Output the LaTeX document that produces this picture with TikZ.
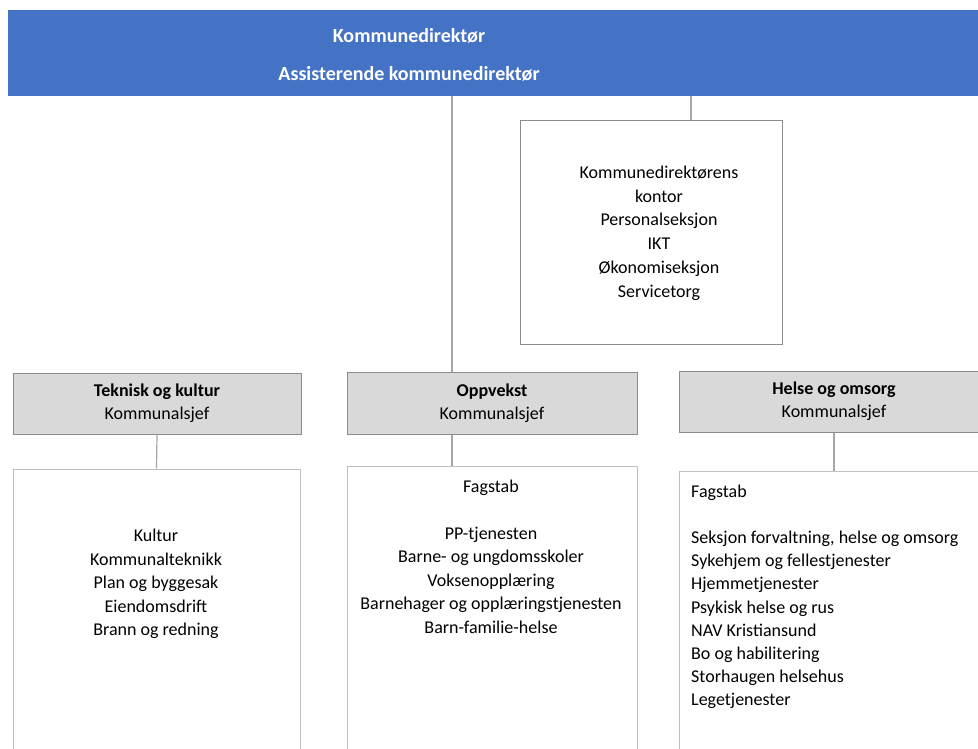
\documentclass[tikz,border=0pt]{standalone}
\usepackage{fontspec}
\setmainfont{Carlito}
\definecolor{barblue}{HTML}{4472C4}
\definecolor{linegray}{HTML}{A6A6A6}
\definecolor{headfill}{HTML}{D9D9D9}
\definecolor{headborder}{HTML}{8C8C8C}
\definecolor{boxgray}{HTML}{BFBFBF}
\definecolor{staffgray}{HTML}{8C8C8C}
\begin{document}
\begin{tikzpicture}[x=1pt,y=-1pt,
  bar/.style={fill=barblue, draw=none, inner sep=0pt},
  hdr/.style={text=white, font=\fontsize{20}{23}\selectfont\bfseries, inner sep=0pt},
  subbox/.style={draw=boxgray, line width=0.9pt, fill=white, inner sep=0pt},
  staffbox/.style={draw=staffgray, line width=0.9pt, fill=white, inner sep=0pt},
  headbox/.style={draw=headborder, fill=headfill, line width=1pt, inner sep=0pt, align=center, font=\fontsize{18}{23}\selectfont},
  txt/.style={font=\fontsize{18}{23.4}\selectfont, inner sep=0pt, align=center},
  ltxt/.style={font=\fontsize{18}{23.2}\selectfont, inner sep=0pt, align=left},
  conn/.style={draw=linegray, line width=1.2pt}]
\useasboundingbox (0,0) rectangle (978,748);
\clip (0,0) rectangle (978,748);
\fill[white] (0,0) rectangle (978,748);

% top bar
\node[bar, minimum width=972pt, minimum height=86pt] (bar) at (494,53) {};
\node[hdr] (t1) at (409,36) {Kommunedirektør};
\node[hdr] (t2) at (409,74) {Assisterende kommunedirektør};

% staff box
\node[staffbox, minimum width=262pt, minimum height=224pt] (staff) at (651,232.5) {};
\node[txt, font=\fontsize{18}{23.8}\selectfont] (stafftxt) at (659,233) {Kommunedirektørens\\kontor\\Personalseksjon\\IKT\\Økonomiseksjon\\Servicetorg};

% header boxes
\node[headbox, minimum width=288pt, minimum height=61pt] (tek) at (157,403.5) {\textbf{Teknisk og kultur}\\Kommunalsjef};
\node[headbox, minimum width=290pt, minimum height=62pt] (opp) at (492,403) {\textbf{Oppvekst}\\Kommunalsjef};
\node[headbox, minimum width=310pt, minimum height=61pt] (hel) at (834,401.5) {\textbf{Helse og omsorg}\\Kommunalsjef};

% sub boxes
\node[subbox, minimum width=287pt, minimum height=291pt] (teksub) at (156.5,614.5) {};
\node[subbox, minimum width=290pt, minimum height=294pt] (oppsub) at (492,613) {};
\node[subbox, minimum width=310pt, minimum height=289pt] (helsub) at (834,615.5) {};

% texts in sub boxes
\node[txt] (teklist) at (156,584) {Kultur\\Kommunalteknikk\\Plan og byggesak\\Eiendomsdrift\\Brann og redning};
\node[txt] (oppfag) at (491,488) {Fagstab};
\node[txt, font=\fontsize{18}{23.5}\selectfont] (opplist) at (491,580) {PP-tjenesten\\Barne- og ungdomsskoler\\Voksenopplæring\\Barnehager og opplæringstjenesten\\Barn-familie-helse};
\node[ltxt, anchor=west] (helfag) at (691,493) {Fagstab};
\node[ltxt, anchor=west] (hellist) at (691,620) {Seksjon forvaltning, helse og omsorg\\Sykehjem og fellestjenester\\Hjemmetjenester\\Psykisk helse og rus\\NAV Kristiansund\\Bo og habilitering\\Storhaugen helsehus\\Legetjenester};

% connectors
\coordinate (c1) at (452,0);
\coordinate (c2) at (691,0);
\draw[conn] (bar.south -| c1) -- (opp.north -| c1);
\draw[conn] (bar.south -| c2) -- (staff.north -| c2);
\draw[conn] (tek.south) -- (teksub.north);
\draw[conn] (opp.south -| c1) -- (oppsub.north -| c1);
\draw[conn] (hel.south) -- (helsub.north);
\end{tikzpicture}
\end{document}
